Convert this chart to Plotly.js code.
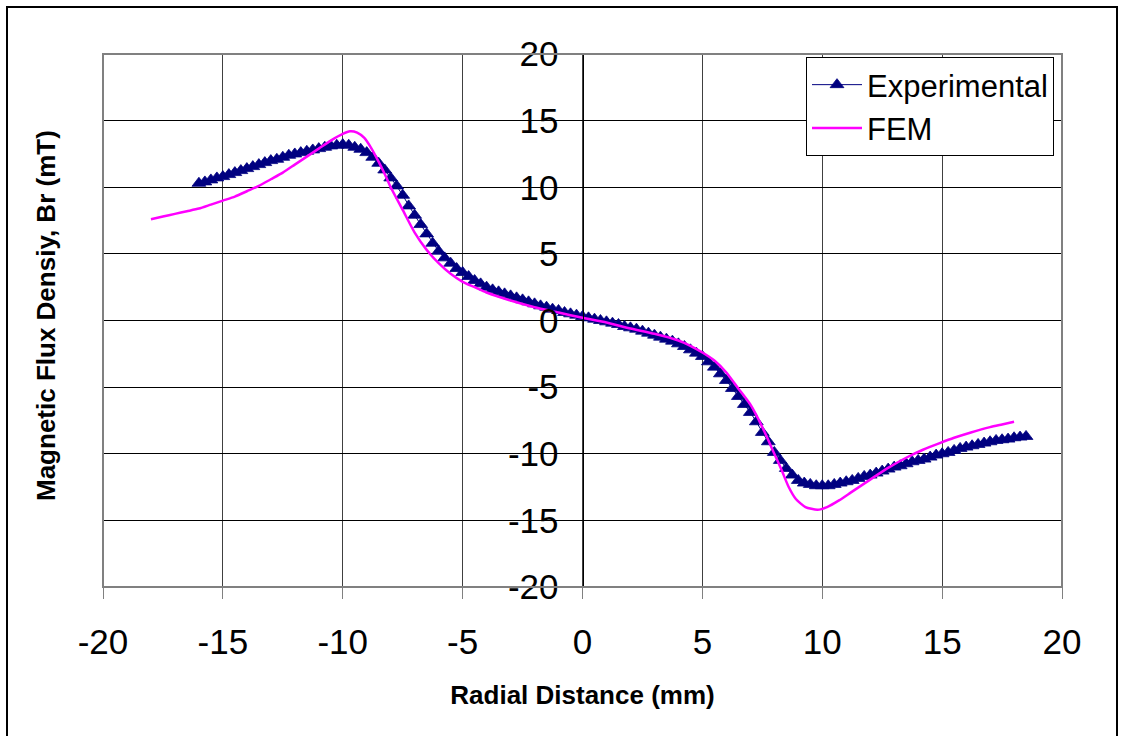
<!DOCTYPE html>
<html>
<head>
<meta charset="utf-8">
<script src="https://cdn.plot.ly/plotly-3.0.1.min.js"></script>
<style>html,body{margin:0;padding:0;background:#fff;}#chart{width:1122px;height:736px;}</style>
</head>
<body>
<div id="chart"></div>
<script>
// Experimental measurements (mm, mT)
const expX = [-16,-15.75,-15.5,-15.25,-15,-14.75,-14.5,-14.25,-14,-13.75,-13.5,-13.25,-13,-12.75,-12.5,-12.25,-12,-11.75,-11.5,-11.25,-11,-10.75,-10.5,-10.25,-10,-9.75,-9.5,-9.25,-9,-8.75,-8.5,-8.25,-8,-7.75,-7.5,-7.25,-7,-6.75,-6.5,-6.25,-6,-5.75,-5.5,-5.25,-5,-4.75,-4.5,-4.25,-4,-3.75,-3.5,-3.25,-3,-2.75,-2.5,-2.25,-2,-1.75,-1.5,-1.25,-1,-0.75,-0.5,-0.25,0,0.25,0.5,0.75,1,1.25,1.5,1.75,2,2.25,2.5,2.75,3,3.25,3.5,3.75,4,4.25,4.5,4.75,5,5.25,5.5,5.75,6,6.25,6.5,6.75,7,7.25,7.5,7.75,8,8.25,8.5,8.75,9,9.25,9.5,9.75,10,10.25,10.5,10.75,11,11.25,11.5,11.75,12,12.25,12.5,12.75,13,13.25,13.5,13.75,14,14.25,14.5,14.75,15,15.25,15.5,15.75,16,16.25,16.5,16.75,17,17.25,17.5,17.75,18,18.25,18.5];
const expY = [10.3,10.4,10.55,10.7,10.8,10.95,11.1,11.25,11.4,11.55,11.7,11.85,12.0,12.1,12.25,12.4,12.5,12.6,12.7,12.8,12.9,13.0,13.1,13.15,13.2,13.15,13.0,12.85,12.6,12.25,11.8,11.3,10.7,10.1,9.4,8.6,7.9,7.2,6.5,5.8,5.2,4.7,4.3,3.9,3.6,3.3,3.0,2.75,2.5,2.3,2.15,2.0,1.85,1.7,1.55,1.4,1.25,1.1,1.0,0.85,0.75,0.6,0.5,0.4,0.3,0.2,0.1,0.0,-0.1,-0.2,-0.3,-0.45,-0.55,-0.65,-0.8,-0.95,-1.1,-1.25,-1.4,-1.55,-1.75,-1.95,-2.2,-2.45,-2.7,-3.1,-3.5,-4.0,-4.5,-5.1,-5.7,-6.3,-6.9,-7.6,-8.4,-9.1,-9.9,-10.5,-11.1,-11.6,-12.0,-12.2,-12.3,-12.4,-12.4,-12.4,-12.3,-12.2,-12.1,-12.0,-11.85,-11.7,-11.6,-11.45,-11.3,-11.15,-11.0,-10.9,-10.75,-10.6,-10.5,-10.4,-10.25,-10.1,-10.0,-9.9,-9.75,-9.6,-9.5,-9.4,-9.3,-9.2,-9.1,-9.0,-8.95,-8.9,-8.8,-8.75,-8.7];

// FEM simulation (mm, mT)
const femX = [-18,-17.5,-17,-16.5,-16,-15.5,-15,-14.5,-14,-13.5,-13,-12.5,-12,-11.5,-11,-10.5,-10,-9.7,-9.4,-9.1,-8.8,-8.5,-8.2,-8,-7.5,-7,-6.5,-6,-5.5,-5,-4.5,-4,-3,-2,-1,0,1,2,3,4,4.5,5,5.5,6,6.5,7,7.5,8,8.3,8.6,8.9,9.3,9.8,10.2,10.7,11.2,11.7,12.2,12.8,13.5,14.2,14.9,15.5,16.2,17,17.5,18];
const femY = [7.6,7.8,8.0,8.2,8.4,8.7,9.0,9.3,9.7,10.1,10.6,11.1,11.7,12.3,12.9,13.5,14.0,14.2,14.1,13.7,12.9,11.9,10.8,10.0,8.3,6.6,5.3,4.3,3.5,2.9,2.5,2.1,1.5,1.0,0.6,0.2,-0.15,-0.6,-1.0,-1.5,-1.9,-2.4,-3.0,-3.9,-5.1,-6.3,-8.0,-10.0,-11.2,-12.5,-13.4,-14.0,-14.2,-14.0,-13.5,-12.9,-12.3,-11.7,-11.0,-10.3,-9.7,-9.2,-8.8,-8.4,-8.0,-7.8,-7.6];

// Axis ticks and labels
const xTickVals = [-20,-15,-10,-5,0,5,10,15,20];
const xTickText = ["-20","-15","-10","-5","0","5","10","15","20"];
const yTickVals = [-20,-15,-10,-5,0,5,10,15,20];
const yTickText = ["-20","-15","-10","-5","0","5","10","15","20"];

const seriesNames = ["Experimental", "FEM"];
const xTitle = "Radial Distance (mm)";
const yTitle = "Magnetic Flux Densiy, Br (mT)";

const FONT = "Liberation Sans, Arial, sans-serif";

// pixel helpers for paper placement (plot area 103..1062 x 54..587)
const L = 103, R = 60, T = 54, B = 149, W = 1122, H = 736;
const pw = W - L - R, ph = H - T - B;
const px = v => (v - L) / pw;
const py = v => (H - B - v) / ph;

const traces = [
  {
    x: expX, y: expY, name: seriesNames[0], type: "scatter", mode: "lines+markers",
    line: {color: "#000080", width: 1},
    marker: {symbol: "triangle-up", size: 12, color: "#000080", line: {color: "#000080", width: 0.8}},
    cliponaxis: false
  },
  {
    x: femX, y: femY, name: seriesNames[1], type: "scatter", mode: "lines",
    line: {color: "#ff00ff", width: 2.5, shape: "spline", smoothing: 0.6}
  }
];

const layout = {
  width: W, height: H,
  margin: {l: L, r: R, t: T, b: B, pad: 0},
  paper_bgcolor: "#ffffff", plot_bgcolor: "#ffffff",
  font: {family: FONT, color: "#000"},
  showlegend: true,
  legend: {
    x: px(806), y: py(57), xanchor: "left", yanchor: "top",
    bgcolor: "#ffffff", bordercolor: "#000", borderwidth: 1,
    font: {family: FONT, size: 31, color: "#000"},
    itemwidth: 50, tracegroupgap: 0
  },
  xaxis: {
    range: [-20, 20], tickmode: "array", tickvals: xTickVals, ticktext: xTickText,
    showgrid: true, gridcolor: "#404040", gridwidth: 1,
    zeroline: false, showline: false,
    ticks: "outside", ticklen: 11, tickcolor: "#808080", tickwidth: 1,
    tickfont: {family: FONT, size: 35, color: "#000"},
    ticklabelstandoff: 13,
    title: {text: xTitle, font: {family: FONT, size: 26, color: "#000", weight: "bold"}, standoff: 25}
  },
  yaxis: {
    range: [-20, 20], tickmode: "array", tickvals: yTickVals, ticktext: yTickText,
    anchor: "free", position: 0.5, side: "left",
    showgrid: true, gridcolor: "#000", gridwidth: 1,
    zeroline: false, showline: true, linecolor: "#000", linewidth: 1,
    ticks: "outside", ticklen: 11, tickcolor: "#000", tickwidth: 1,
    tickfont: {family: FONT, size: 35, color: "#000"},
    ticklabelstandoff: 6
  },
  annotations: [
    {
      xref: "paper", yref: "paper", x: px(46), y: py(316), xanchor: "center", yanchor: "middle",
      text: "<b>" + yTitle + "</b>", textangle: -90, showarrow: false,
      font: {family: FONT, size: 26, color: "#000"}
    }
  ],
  shapes: [
    {type: "rect", xref: "paper", yref: "paper", x0: 0, x1: 1, y0: 0, y1: 1,
     line: {color: "#808080", width: 2}, layer: "above"},
    {type: "rect", xref: "paper", yref: "paper", x0: px(7), x1: px(1117), y0: py(745), y1: py(7),
     line: {color: "#000", width: 2}, layer: "above"}
  ]
};

Plotly.newPlot("chart", traces, layout, {displayModeBar: false, staticPlot: true});
</script>
</body>
</html>
